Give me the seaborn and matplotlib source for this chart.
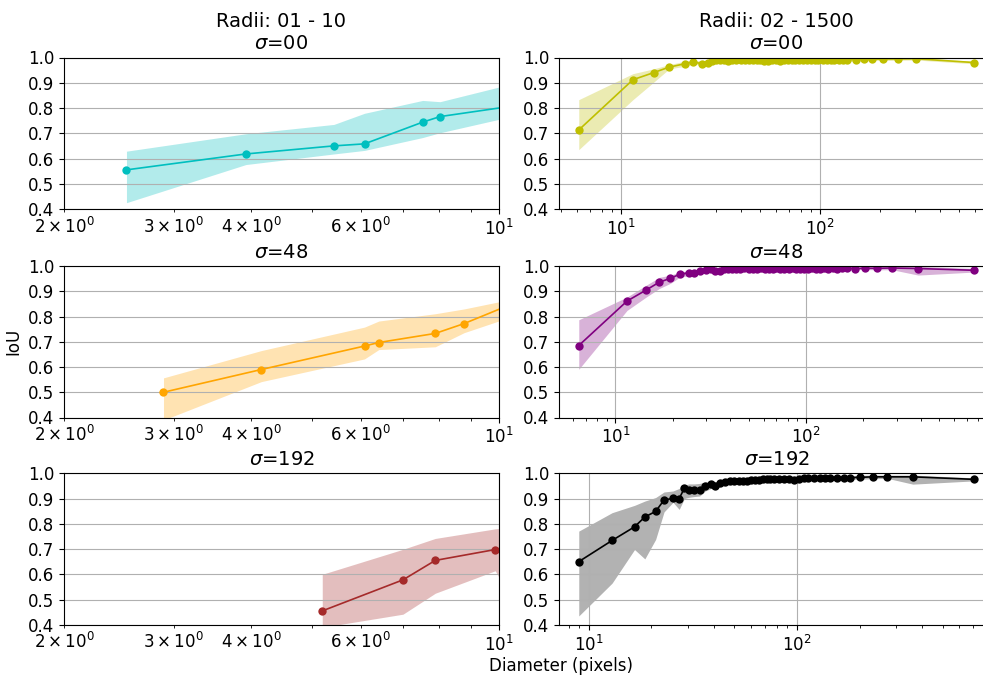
import matplotlib
matplotlib.use("Agg")
import matplotlib.pyplot as plt
import seaborn as sns
import numpy as np

# ---------------- data ----------------
col_titles = ["Radii: 01 - 10", "Radii: 02 - 1500"]
sigma_labels = ["00", "48", "192"]

# left column (radii 01-10)
tl_x = [2.52, 3.92, 5.43, 6.08, 7.54, 8.04, 10.5]
tl_y = [0.555, 0.618, 0.650, 0.658, 0.744, 0.766, 0.8075]
tl_lo = [0.425, 0.576, 0.618, 0.632, 0.683, 0.702, 0.767]
tl_hi = [0.629, 0.698, 0.735, 0.779, 0.830, 0.825, 0.896]

ml_x = [2.89, 4.15, 6.08, 6.41, 7.90, 8.79, 10.5]
ml_y = [0.500, 0.590, 0.683, 0.697, 0.733, 0.772, 0.850]
ml_lo = [0.390, 0.542, 0.632, 0.669, 0.680, 0.736, 0.800]
ml_hi = [0.557, 0.665, 0.758, 0.782, 0.811, 0.830, 0.869]

bl_x = [5.20, 7.01, 7.90, 9.86, 10.5]
bl_y = [0.455, 0.578, 0.655, 0.698, 0.700]
bl_lo = [0.390, 0.442, 0.525, 0.614, 0.500]
bl_hi = [0.600, 0.699, 0.742, 0.780, 0.785]

# right column (radii 02-1500)
tr_x = [6.15, 11.5, 14.6, 17.5, 20.9, 23.1, 25.5, 27.5,
        28.6, 30.0, 31.5, 33.0, 34.5, 36.0, 38.0, 40.0, 42.0, 44.0,
        46.0, 48.0, 50.0, 52.5, 55.0, 57.5, 60.0, 63.0, 66.0, 69.0,
        72.0, 75.0, 78.0, 82.0, 86.0, 90.0, 94.0, 98.0, 103, 108,
        113, 118, 124, 130, 136,
        152, 167, 183, 208, 246, 304, 594]
tr_y = [0.713, 0.912, 0.940, 0.962, 0.975, 0.983, 0.975, 0.979,
        0.988, 0.990, 0.991, 0.989, 0.986, 0.990, 0.991, 0.990, 0.989, 0.990,
        0.991, 0.990, 0.989, 0.988, 0.986, 0.989, 0.990, 0.988, 0.990, 0.991,
        0.989, 0.990, 0.990, 0.989, 0.991, 0.990, 0.989, 0.990, 0.991, 0.990,
        0.989, 0.991, 0.990, 0.992, 0.991,
        0.992, 0.993, 0.993, 0.994, 0.994, 0.995, 0.980]
tr_lo = [0.635, 0.833, 0.902, 0.955, 0.965, 0.975, 0.968, 0.972,
         0.980, 0.982, 0.983, 0.981, 0.978, 0.982, 0.983, 0.982, 0.981, 0.982,
         0.983, 0.982, 0.981, 0.980, 0.978, 0.981, 0.982, 0.980, 0.982, 0.983,
         0.981, 0.982, 0.982, 0.981, 0.983, 0.982, 0.981, 0.982, 0.983, 0.982,
         0.981, 0.983, 0.982, 0.984, 0.983,
         0.986, 0.987, 0.988, 0.988, 0.989, 0.990, 0.975]
tr_hi = [0.833, 0.936, 0.955, 0.972, 0.985, 0.990, 0.985, 0.988,
         0.995, 0.996, 0.997, 0.996, 0.994, 0.996, 0.997, 0.996, 0.996, 0.996,
         0.997, 0.996, 0.996, 0.995, 0.994, 0.996, 0.996, 0.995, 0.996, 0.997,
         0.996, 0.996, 0.996, 0.996, 0.997, 0.996, 0.996, 0.996, 0.997, 0.996,
         0.996, 0.997, 0.996, 0.998, 0.997,
         0.998, 0.998, 0.998, 0.998, 0.999, 0.999, 0.985]

mr_x = [6.42, 11.5, 14.5, 17.0, 19.4, 21.7, 24.2, 25.9, 27.9, 29.9, 31.6, 33.5, 35.3,
        37.0, 39.0, 41.0, 43.0, 45.0, 47.5, 50.0, 52.5, 55.0, 58.0, 61.0, 64.0,
        67.0, 70.0, 73.5, 77.0, 81.0, 85.0, 89.0, 93.0, 98.0, 103, 108, 113,
        119, 125, 131, 138, 145,
        154.5, 165, 181, 204, 236, 284, 388, 764]
mr_y = [0.685, 0.861, 0.905, 0.936, 0.951, 0.967, 0.973, 0.972, 0.980, 0.984, 0.988, 0.980, 0.982,
        0.987, 0.989, 0.990, 0.988, 0.990, 0.991, 0.990, 0.989, 0.990, 0.991, 0.990, 0.989,
        0.990, 0.991, 0.990, 0.989, 0.990, 0.991, 0.990, 0.990, 0.989, 0.990, 0.991, 0.990,
        0.990, 0.991, 0.990, 0.991, 0.990,
        0.991, 0.991, 0.990, 0.991, 0.991, 0.992, 0.990, 0.983]
mr_lo = [0.591, 0.824, 0.877, 0.911, 0.931, 0.955, 0.962, 0.962, 0.970, 0.975, 0.979, 0.972, 0.975,
         0.979, 0.981, 0.982, 0.980, 0.982, 0.983, 0.982, 0.981, 0.982, 0.983, 0.982, 0.981,
         0.982, 0.983, 0.982, 0.981, 0.982, 0.983, 0.982, 0.982, 0.981, 0.982, 0.983, 0.982,
         0.982, 0.983, 0.982, 0.983, 0.982,
         0.985, 0.985, 0.986, 0.986, 0.985, 0.985, 0.964, 0.976]
mr_hi = [0.787, 0.877, 0.924, 0.955, 0.964, 0.975, 0.982, 0.982, 0.988, 0.990, 0.995, 0.988, 0.990,
         0.995, 0.996, 0.997, 0.996, 0.997, 0.997, 0.997, 0.996, 0.997, 0.997, 0.997, 0.996,
         0.997, 0.997, 0.997, 0.996, 0.997, 0.997, 0.997, 0.997, 0.996, 0.997, 0.997, 0.997,
         0.997, 0.997, 0.997, 0.997, 0.997,
         0.998, 0.998, 0.998, 0.998, 0.998, 0.999, 0.999, 0.990]

br_x = [8.96, 12.95, 16.6, 18.6, 20.96, 23.0, 25.4, 27.2, 28.8, 30.3, 32.2, 34.1, 36.3,
        38.7, 40.5, 42.8, 45.3,
        47.5, 50.0, 52.5, 55.0, 57.5, 60.0, 63.0, 66.0, 69.0, 72.0, 74.5,
        77.3, 81.7, 86.3, 91.2, 96.3, 101.8, 107.6, 113.6, 120.2, 129.4, 136.7, 144.5,
        155.6, 167.5, 180, 200, 231, 272, 360, 710]
br_y = [0.650, 0.734, 0.788, 0.827, 0.849, 0.894, 0.901, 0.900, 0.941, 0.933, 0.934, 0.934, 0.950,
        0.957, 0.948, 0.960, 0.966,
        0.968, 0.969, 0.970, 0.969, 0.971, 0.972, 0.974, 0.975, 0.976, 0.978, 0.977,
        0.978, 0.979, 0.978, 0.976, 0.975, 0.978, 0.980, 0.981, 0.982, 0.981, 0.982, 0.980,
        0.983, 0.983, 0.983, 0.984, 0.986, 0.986, 0.986, 0.976]
br_lo = [0.435, 0.565, 0.698, 0.661, 0.738, 0.847, 0.885, 0.857, 0.900, 0.905, 0.908, 0.910, 0.930,
         0.940, 0.935, 0.948, 0.955,
         0.958, 0.959, 0.961, 0.960, 0.962, 0.963, 0.965, 0.966, 0.967, 0.969, 0.968,
         0.969, 0.970, 0.969, 0.967, 0.966, 0.969, 0.971, 0.972, 0.973, 0.972, 0.973, 0.971,
         0.975, 0.975, 0.976, 0.977, 0.978, 0.980, 0.957, 0.970]
br_hi = [0.771, 0.844, 0.873, 0.890, 0.904, 0.926, 0.930, 0.940, 0.953, 0.958, 0.958, 0.960, 0.965,
         0.968, 0.965, 0.970, 0.975,
         0.977, 0.978, 0.979, 0.978, 0.980, 0.981, 0.983, 0.984, 0.985, 0.987, 0.986,
         0.987, 0.988, 0.987, 0.985, 0.984, 0.987, 0.989, 0.990, 0.991, 0.990, 0.991, 0.989,
         0.991, 0.991, 0.991, 0.992, 0.993, 0.993, 0.993, 0.982]

panels = [
    [(tl_x, tl_y, tl_lo, tl_hi, "c"), (tr_x, tr_y, tr_lo, tr_hi, "y")],
    [(ml_x, ml_y, ml_lo, ml_hi, "orange"), (mr_x, mr_y, mr_lo, mr_hi, "purple")],
    [(bl_x, bl_y, bl_lo, bl_hi, "brown"), (br_x, br_y, br_lo, br_hi, "k")],
]

# ---------------- layout ----------------
W, H = 983, 676
fig = plt.figure(figsize=(W / 100, H / 100), dpi=100)
col_left = [64, 559]
ax_w = 435
row_top = [57.5, 266, 473.3]
ax_h = 151.5

for r in range(3):
    for c in range(2):
        x, y, lo, hi, color = panels[r][c]
        ax = fig.add_axes([col_left[c] / W, 1 - (row_top[r] + ax_h) / H, ax_w / W, ax_h / H])
        ax.set_xscale("log")
        ax.fill_between(x, lo, hi, color=color, alpha=0.3, linewidth=0)
        sns.lineplot(x=x, y=y, ax=ax, color=color, marker="o", markersize=6,
                     markeredgewidth=0, linewidth=1.2, sort=False)
        ax.set_ylim(0.4, 1.0)
        ax.set_yticks(np.arange(0.4, 1.01, 0.1))
        if c == 0:
            ax.set_xlim(2, 10)
        ax.grid(True)
        ax.tick_params(which="both", labelsize=12)
        ax.set_xlabel("")
        ax.set_ylabel("")
        title = f"$\\sigma$={sigma_labels[r]}"
        if r == 0:
            title = col_titles[c] + "\n" + title
        ax.set_title(title, fontsize=14)
        if r == 1 and c == 0:
            ax.set_ylabel("IoU", fontsize=12)

fig.text(561 / W, 1 - 666 / H, "Diameter (pixels)", ha="center", va="center", fontsize=12)

fig.savefig("out.png", dpi=100)
